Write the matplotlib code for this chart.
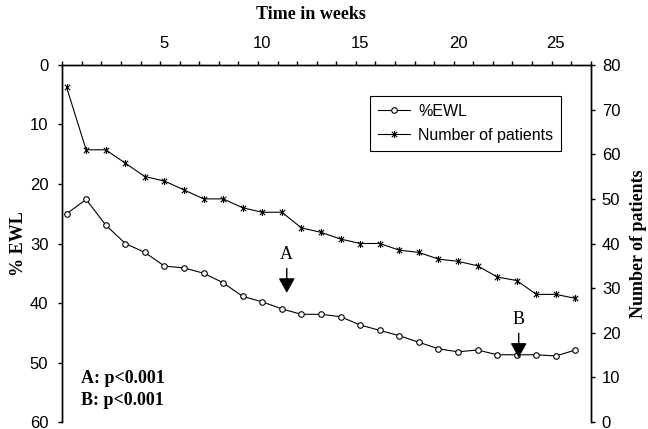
import numpy as np
import matplotlib
matplotlib.use("Agg")
import matplotlib.pyplot as plt
from matplotlib.path import Path

# data
weeks = list(range(0, 27))
ewl = [25.0, 22.6, 26.9, 30.0, 31.5, 33.8, 34.1, 35.0, 36.6, 38.9, 39.8, 41.0, 41.9,
       41.9, 42.3, 43.7, 44.6, 45.5, 46.6, 47.7, 48.2, 47.9, 48.7, 48.7, 48.7, 48.9, 47.9]
patients = [75, 61, 61, 58, 55, 54, 52, 50, 50, 48, 47, 47, 43.5,
            42.5, 41, 40, 40, 38.5, 38, 36.5, 36, 35, 32.5, 31.7, 28.6, 28.6, 27.7]
week_labels = [5, 10, 15, 20, 25]
notes = ["A", "B"]
note_weeks = [11.25, 23.1]
note_ewl = [38.3, 49.2]

serif = "Liberation Serif"
sans = "Liberation Sans"

fig = plt.figure(figsize=(6.48, 4.29), dpi=100)
ax = fig.add_axes([0.0961, 0.0163, 0.8155, 0.8322])
ax2 = ax.twinx()

star = Path([(-1, -1), (1, 1), (-1, 1), (1, -1), (0, -1.3), (0, 1.3)],
            [Path.MOVETO, Path.LINETO, Path.MOVETO, Path.LINETO, Path.MOVETO, Path.LINETO])

l1, = ax.plot(weeks, ewl, color="black", lw=0.8, marker="o", ms=4,
              mfc="white", mec="black", mew=0.8, label="%EWL")
l2, = ax2.plot(weeks, patients, color="black", lw=0.8, marker=star, ms=5,
               mec="black", mew=0.8, label="Number of patients")

ax.set_xlim(-0.22, 26.78)
ax.set_ylim(60, 0)
ax2.set_ylim(0, 80)

for a in (ax, ax2):
    a.spines["bottom"].set_visible(False)
    for s in a.spines.values():
        s.set_linewidth(1.0)

ax.xaxis.tick_top()
ax.set_xticks(week_labels)
ax.set_xticklabels([str(w) for w in week_labels], family=sans, fontsize=12)
ax.set_xticks(np.arange(28) - 0.22, minor=True)
ax.tick_params(axis="x", which="major", length=0, pad=10)
ax.tick_params(axis="x", which="minor", length=3, direction="out", width=1)
ax.xaxis.set_label_position("top")
ax.set_xlabel("Time in weeks", family=serif, fontweight="bold", fontsize=13)
ax.xaxis.set_label_coords(0.47, 1.13)

ax.set_yticks(range(0, 61, 10))
ax.set_yticklabels([str(v) for v in range(0, 61, 10)], family=sans, fontsize=12)
ax.tick_params(axis="y", length=3, width=1, pad=7)
ax.set_ylabel("% EWL", family=serif, fontweight="bold", fontsize=13, labelpad=2)

ax2.set_yticks(range(0, 81, 10))
ax2.set_yticklabels([str(v) for v in range(0, 81, 10)], family=sans, fontsize=12)
ax2.tick_params(axis="y", length=3, width=1, pad=5)
ax2.set_ylabel("Number of patients", family=serif, fontweight="bold", fontsize=13,
               rotation=90, labelpad=7)

for n, w, e in zip(notes, note_weeks, note_ewl):
    ax.annotate("", xy=(w, e), xytext=(w, e - 4.1),
                arrowprops=dict(arrowstyle="-|>,head_length=0.9,head_width=0.5",
                                color="black", lw=1.0, shrinkA=0, shrinkB=0))
    ax.text(w, e - 5.0, n, family=serif, fontsize=13, ha="center", va="bottom")

ax.text(0.035, 0.145, "A: p<0.001\nB: p<0.001", transform=ax.transAxes,
        family=serif, fontweight="bold", fontsize=13, va="top", ha="left",
        linespacing=1.4)

leg = fig.legend(handles=[l1, l2], loc="upper left",
                 bbox_to_anchor=(370 / 648, 1 - 96 / 429), frameon=True,
                 fancybox=False, edgecolor="black", framealpha=1,
                 prop={"family": sans, "size": 11.5}, handlelength=2.0,
                 handletextpad=0.5, borderpad=0.5, labelspacing=0.55,
                 borderaxespad=0)
leg.get_frame().set_linewidth(0.8)

fig.savefig("out.png", dpi=100)
